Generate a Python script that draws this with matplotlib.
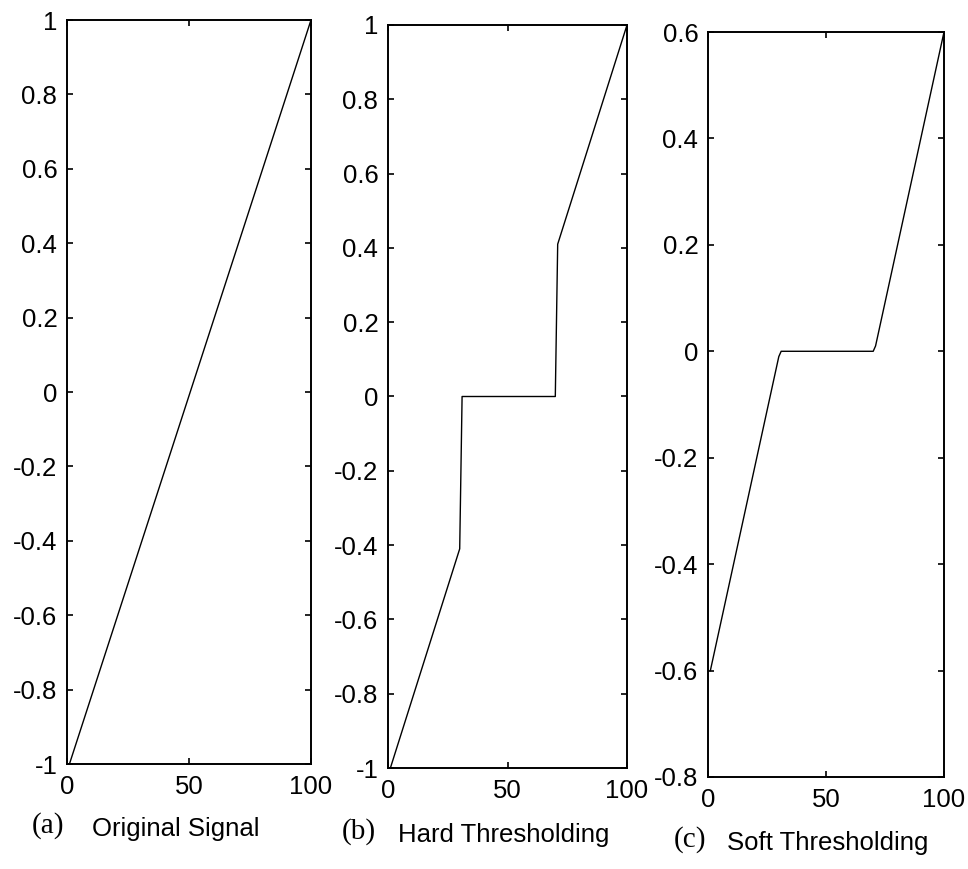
import matplotlib
matplotlib.use("Agg")
import matplotlib.pyplot as plt

# breakpoints (sample index 1..100)
orig_x = [1, 100]
orig_y = [-1.0, 1.0]

hard_x = [1, 30, 31, 70, 71, 100]
hard_y = [-1.0, -0.41, 0.0, 0.0, 0.41, 1.0]

soft_x = [1, 30, 31, 70, 71, 100]
soft_y = [-0.6, -0.01, 0.0, 0.0, 0.01, 0.6]

x_ticks = [0, 50, 100]
yticks_ab = [-1, -0.8, -0.6, -0.4, -0.2, 0, 0.2, 0.4, 0.6, 0.8, 1]
yticks_c = [-0.8, -0.6, -0.4, -0.2, 0, 0.2, 0.4, 0.6]

panel_tags = ["(a)", "(b)", "(c)"]
panel_names = ["Original Signal", "Hard Thresholding", "Soft Thresholding"]

plt.rcParams["font.family"] = ["Liberation Sans", "DejaVu Sans"]

W, H = 968, 869
fig = plt.figure(figsize=(W / 100, H / 100), dpi=100)

# pixel boxes: left, right, top, bottom
boxes = [(67, 311, 20, 764), (388, 627, 25, 768), (708, 944, 32, 777)]
series = [(orig_x, orig_y, yticks_ab), (hard_x, hard_y, yticks_ab), (soft_x, soft_y, yticks_c)]
cap_pos = [(32, 92, 826), (342, 398, 832), (674, 727, 840)]

for i, ((l, r, t, b), (xs, ys, yt)) in enumerate(zip(boxes, series)):
    ax = fig.add_axes([l / W, 1 - b / H, (r - l) / W, (b - t) / H])
    ax.plot(xs, ys, color="black", linewidth=1.0)
    ax.set_xlim(0, 100)
    ax.set_ylim(yt[0], yt[-1])
    ax.set_xticks(x_ticks)
    ax.set_yticks(yt)
    ax.set_yticklabels([f"{v:g}" for v in yt])
    ax.tick_params(direction="in", length=4.5, width=1.2, top=True, right=True,
                   labelsize=18.5)
    ax.tick_params(axis="x", pad=8)
    ax.tick_params(axis="y", pad=7)
    for s in ax.spines.values():
        s.set_linewidth(1.4)

    tx, nx, cy = cap_pos[i]
    fig.text(tx / W, 1 - cy / H, panel_tags[i], family="Liberation Serif",
             fontsize=21, va="center", ha="left")
    fig.text(nx / W, 1 - (cy + 3) / H, panel_names[i], fontsize=18.5,
             va="center", ha="left")

fig.savefig("out.png", dpi=100, facecolor="white")
